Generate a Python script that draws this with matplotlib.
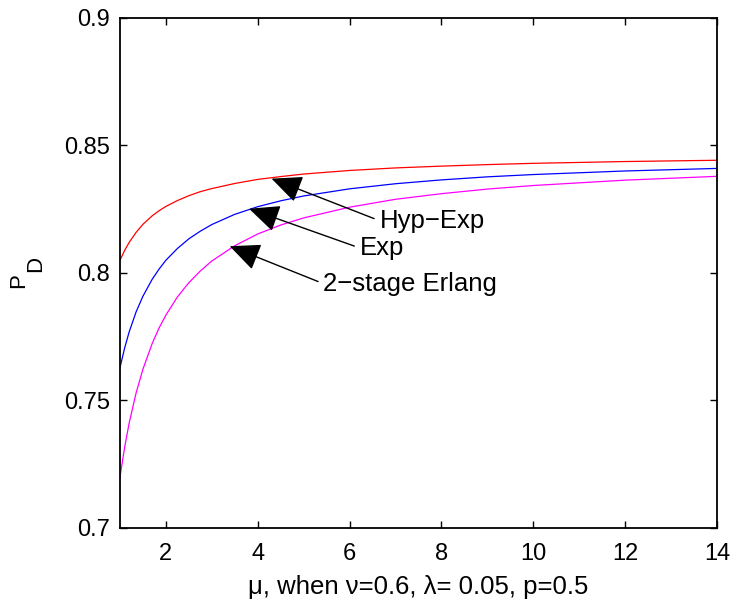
import matplotlib
matplotlib.use('Agg')
import matplotlib.pyplot as plt

plt.rcParams['font.family'] = ['Liberation Sans', 'DejaVu Sans']

mu = [1, 1.1, 1.2, 1.35, 1.5, 1.7, 1.85, 2, 2.25, 2.5, 2.75, 3, 3.5, 4, 4.5,
      5, 6, 7, 8, 9, 10, 12, 14]
hyp_exp = [0.8050, 0.8088, 0.8120, 0.8159, 0.8191, 0.8224, 0.8244, 0.8261, 0.8284,
           0.8303, 0.8319, 0.8331, 0.8351, 0.8367, 0.8378, 0.8388, 0.8402, 0.8412,
           0.8419, 0.8425, 0.8430, 0.8437, 0.8442]
exp_ = [0.7629, 0.7705, 0.7769, 0.7847, 0.7909, 0.7975, 0.8015, 0.8050, 0.8096,
        0.8134, 0.8164, 0.8190, 0.8230, 0.8260, 0.8283, 0.8302, 0.8330, 0.8350,
        0.8365, 0.8377, 0.8386, 0.8400, 0.8410]
erlang2 = [0.7200, 0.7315, 0.7412, 0.7529, 0.7623, 0.7723, 0.7784, 0.7835, 0.7906,
           0.7962, 0.8008, 0.8047, 0.8107, 0.8153, 0.8188, 0.8216, 0.8258, 0.8289,
           0.8311, 0.8329, 0.8343, 0.8364, 0.8379]

xticks = [2, 4, 6, 8, 10, 12, 14]
yticks = [0.7, 0.75, 0.8, 0.85, 0.9]
ytick_labels = ['0.7', '0.75', '0.8', '0.85', '0.9']

fig = plt.figure(figsize=(7.33, 6.05), dpi=100)
ax = fig.add_axes([0.1637, 0.1273, 0.8145, 0.843])

ax.plot(mu, hyp_exp, color='#ff0000', lw=0.9)
ax.plot(mu, exp_, color='#0000ff', lw=0.9)
ax.plot(mu, erlang2, color='#ff00ff', lw=0.9)

ax.set_xlim(1, 14)
ax.set_ylim(0.7, 0.9)
ax.set_xticks(xticks)
ax.set_yticks(yticks)
ax.set_yticklabels(ytick_labels)
ax.tick_params(direction='in', length=5, width=1, top=True, right=True,
               labelsize=17)
ax.tick_params(axis='x', pad=11)
ax.tick_params(axis='y', pad=7)
for s in ax.spines.values():
    s.set_linewidth(1.3)

ax.set_xlabel('\u03bc, when \u03bd=0.6, \u03bb= 0.05, p=0.5', fontsize=18.5, labelpad=7)

# y label: P with a large subscript D (MATLAB style)
fig.text(0.0259, 0.537, 'P', rotation=90, fontsize=16, ha='center', va='center')
fig.text(0.0491, 0.5636, 'D', rotation=90, fontsize=16, ha='center', va='center')

arrow = dict(arrowstyle='-|>,head_length=1.0,head_width=0.45', color='k',
             lw=1, mutation_scale=19, relpos=(0, 0.5), shrinkA=2, shrinkB=0)
ax.annotate('Hyp\u2212Exp', xy=(4.30, 0.8370), xytext=(6.65, 0.8205),
            fontsize=18.5, ha='left', va='center', arrowprops=arrow)
ax.annotate('Exp', xy=(3.81, 0.8252), xytext=(6.22, 0.8098),
            fontsize=18.5, ha='left', va='center', arrowprops=arrow)
ax.annotate('2\u2212stage Erlang', xy=(3.39, 0.8105), xytext=(5.43, 0.7958),
            fontsize=18.5, ha='left', va='center', arrowprops=arrow)

fig.savefig('out.png', dpi=100)
